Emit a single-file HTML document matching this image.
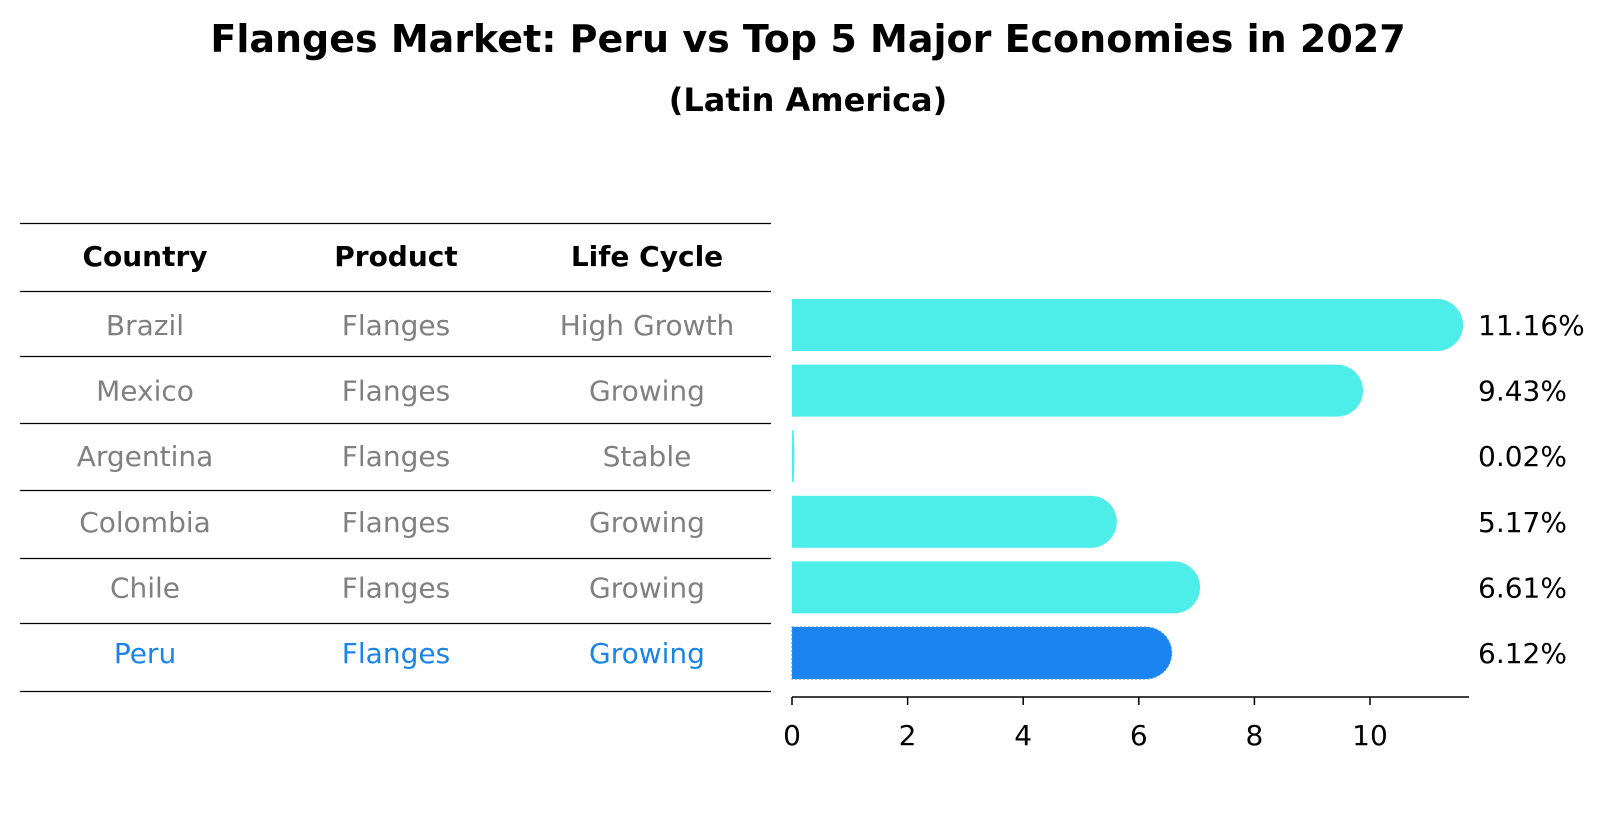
<!DOCTYPE html>
<html><head><meta charset="utf-8">
<style>
body{margin:0;background:#fff;width:1604px;height:823px;overflow:hidden;font-family:"DejaVu Sans","Liberation Sans",sans-serif;}
svg text{font-family:"DejaVu Sans","Liberation Sans",sans-serif;}
</style></head>
<body>
<svg id="chart" width="1604" height="823" xmlns="http://www.w3.org/2000/svg">
<text x="808" y="52" text-anchor="middle" font-size="38" font-weight="bold">Flanges Market: Peru vs Top 5 Major Economies in 2027</text>
<text x="808" y="111" text-anchor="middle" font-size="32" font-weight="bold">(Latin America)</text>
<g id="table"></g>
<g id="bars"></g>
</svg>
<script>
const countries=["Brazil","Mexico","Argentina","Colombia","Chile","Peru"];
const products=["Flanges","Flanges","Flanges","Flanges","Flanges","Flanges"];
const lifeCycles=["High Growth","Growing","Stable","Growing","Growing","Growing"];
const values=[11.16,9.43,0.02,5.17,6.61,6.12];
const valueLabels=["11.16%","9.43%","0.02%","5.17%","6.61%","6.12%"];
const ticks=[0,2,4,6,8,10];

const NS="http://www.w3.org/2000/svg";
function mk(tag,attrs,parent){const e=document.createElementNS(NS,tag);for(const k in attrs)e.setAttribute(k,attrs[k]);parent.appendChild(e);return e;}
const table=document.getElementById('table');
const bars=document.getElementById('bars');
const rowY=i=>325+i*65.6;
const x0=792, pxPer=57.8;
const xs=v=>x0+v*pxPer;
const colX=[145,396,647];
const lineYs=[223,291,356,423,490,558,623,691];
lineYs.forEach((y,i)=>{
 const l=mk('line',{x1:20,x2:771,y1:y+0.5,y2:y+0.5,stroke:'#000','stroke-width':1.2},table);
 
 
});
["Country","Product","Life Cycle"].forEach((h,j)=>{
 const t=mk('text',{x:colX[j],y:266,'text-anchor':'middle','font-size':28,'font-weight':'bold'},table);
 t.textContent=h;
 
 
});
countries.forEach((c,i)=>{
 const col=c==="Peru"?"#1a85e8":"#808080";
 [c,products[i],lifeCycles[i]].forEach((s,j)=>{
  const t=mk('text',{x:colX[j],y:rowY(i)+10,'text-anchor':'middle','font-size':28,fill:col},table);
  t.textContent=s;
  
  
 });
 const w=values[i]*pxPer, h=52, top=rowY(i)-26;
 const r=Math.min(26,w);
 const fill=c==="Peru"?"#1a85f0":"#4deeea";
 const d=`M${x0},${top} H${x0+w} A${r},${h/2} 0 0 1 ${x0+w},${top+h} H${x0} Z`;
 const p=mk('path',{d:d,fill:fill},bars);
 if(c==="Peru"){p.setAttribute('stroke','#3a90e0');p.setAttribute('stroke-dasharray','2,2');}
 
 
 const t=mk('text',{x:1478,y:rowY(i)+10,'font-size':28},bars);
 t.textContent=valueLabels[i];
 
 
});
const ax=mk('line',{x1:x0,x2:1469,y1:697,y2:697,stroke:'#000','stroke-width':1.5},bars);


ticks.forEach(v=>{
 const tk=mk('line',{x1:xs(v),x2:xs(v),y1:697,y2:705,stroke:'#000','stroke-width':1.5},bars);
 
 
 const t=mk('text',{x:xs(v),y:745,'text-anchor':'middle','font-size':28},bars);
 t.textContent=v;
 
 
});
</script>
</body></html>
